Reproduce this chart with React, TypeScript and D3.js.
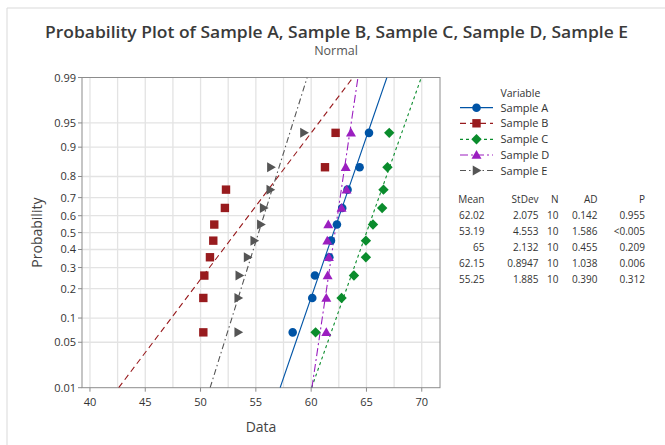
import React from "react";
import * as d3 from "d3";

const seriesNames = ["Sample A", "Sample B", "Sample C", "Sample D", "Sample E"];
const sampleA = [58.33, 60.1, 60.34, 61.64, 61.79, 62.33, 62.81, 63.29, 64.38, 65.23];
const sampleB = [50.25, 50.25, 50.34, 50.85, 51.15, 51.24, 52.2, 52.3, 61.25, 62.21];
const sampleC = [60.4, 62.75, 63.87, 64.95, 64.95, 65.59, 66.42, 66.54, 66.9, 67.06];
const sampleD = [61.37, 61.37, 61.49, 61.6, 61.46, 61.55, 62.75, 63.2, 63.12, 63.6];
const sampleE = [53.4, 53.4, 53.5, 54.25, 54.85, 55.45, 55.7, 56.3, 56.36, 59.35];
const means = [62.02, 53.19, 65, 62.15, 55.25];
const stdevs = [2.075, 4.553, 2.132, 0.8947, 1.885];
const meanLabels = ["62.02", "53.19", "65", "62.15", "55.25"];
const stdevLabels = ["2.075", "4.553", "2.132", "0.8947", "1.885"];
const nLabels = ["10", "10", "10", "10", "10"];
const adLabels = ["0.142", "1.586", "0.455", "1.038", "0.390"];
const pLabels = ["0.955", "<0.005", "0.209", "0.006", "0.312"];
const xTicks = [40, 45, 50, 55, 60, 65, 70];
const xGrid = [40, 42.5, 45, 47.5, 50, 52.5, 55, 57.5, 60, 62.5, 65, 67.5, 70];
const yTicks = [0.01, 0.05, 0.1, 0.2, 0.3, 0.4, 0.5, 0.6, 0.7, 0.8, 0.9, 0.95, 0.99];
const yTickLabels = ["0.01", "0.05", "0.1", "0.2", "0.3", "0.4", "0.5", "0.6", "0.7", "0.8", "0.9", "0.95", "0.99"];

const colors = ["#0054A6", "#981B1E", "#0A8C2C", "#9B1FC0", "#555555"];
const dashes = ["", "6,4", "3,3", "8,3,2,3", "6,3,1.5,3"];
const shapes = ["circle", "square", "diamond", "triangle", "tri-right"];

const FONT = "'Open Sans', 'Noto Sans', sans-serif";

function markerPath(shape: string, cx: number, cy: number): string {
  if (shape === "circle") {
    const r = 4.3;
    return `M${cx - r},${cy}a${r},${r} 0 1,0 ${2 * r},0a${r},${r} 0 1,0 ${-2 * r},0Z`;
  }
  if (shape === "square") {
    const h = 4.2;
    return `M${cx - h},${cy - h}h${2 * h}v${2 * h}h${-2 * h}Z`;
  }
  if (shape === "diamond") {
    const h = 5.2;
    return `M${cx},${cy - h}L${cx + h},${cy}L${cx},${cy + h}L${cx - h},${cy}Z`;
  }
  if (shape === "triangle") {
    const h = 5;
    return `M${cx},${cy - h}L${cx + h},${cy + h * 0.75}L${cx - h},${cy + h * 0.75}Z`;
  }
  const h = 5;
  return `M${cx + h},${cy}L${cx - h * 0.75},${cy - h}L${cx - h * 0.75},${cy + h}Z`;
}

// inverse normal CDF (Acklam)
function invN(p: number): number {
  const a = [-3.969683028665376e1, 2.209460984245205e2, -2.759285104469687e2, 1.38357751867269e2, -3.066479806614716e1, 2.506628277459239];
  const b = [-5.447609879822406e1, 1.615858368580409e2, -1.556989798598866e2, 6.680131188771972e1, -1.328068155288572e1];
  const c = [-7.784894002430293e-3, -3.223964580411365e-1, -2.400758277161838, -2.549732539343734, 4.374664141464968, 2.938163982698783];
  const dd = [7.784695709041462e-3, 3.224671290700398e-1, 2.445134137142996, 3.754408661907416];
  const pl = 0.02425;
  let q: number, r: number;
  if (p < pl) {
    q = Math.sqrt(-2 * Math.log(p));
    return (((((c[0] * q + c[1]) * q + c[2]) * q + c[3]) * q + c[4]) * q + c[5]) / ((((dd[0] * q + dd[1]) * q + dd[2]) * q + dd[3]) * q + 1);
  }
  if (p > 1 - pl) {
    q = Math.sqrt(-2 * Math.log(1 - p));
    return -(((((c[0] * q + c[1]) * q + c[2]) * q + c[3]) * q + c[4]) * q + c[5]) / ((((dd[0] * q + dd[1]) * q + dd[2]) * q + dd[3]) * q + 1);
  }
  q = p - 0.5;
  r = q * q;
  return ((((((a[0] * r + a[1]) * r + a[2]) * r + a[3]) * r + a[4]) * r + a[5]) * q) / (((((b[0] * r + b[1]) * r + b[2]) * r + b[3]) * r + b[4]) * r + 1);
}

export default function App() {
  const W = 665;
  const H = 445;
  const left = 82;
  const right = 440;
  const top = 77.5;
  const bottom = 387.7;
  const zTop = invN(0.99);
  const zBot = invN(0.01);
  const x = d3.scaleLinear().domain([39.28, 71.65]).range([left, right]);
  const y = d3.scaleLinear().domain([zBot, zTop]).range([bottom, top]);
  const yp = (p: number) => y(invN(p));

  const all = [sampleA, sampleB, sampleC, sampleD, sampleE];
  const n = 10;
  const ranks = d3.range(1, n + 1).map((i) => (i - 0.3) / (n + 0.4));
  const line = d3.line<[number, number]>().x((d) => x(d[0])).y((d) => y(d[1]));

  const legX = 460;
  const legRows = [107.7, 123.3, 139.3, 155, 170.5];
  const tblRows = [215, 231, 247, 262.7, 278.7];
  const cols = [484.5, 538.5, 558.5, 597.5, 645];

  return (
    <svg width={W} height={H} style={{ position: "absolute", left: 0, top: 0, background: "#fff" }}>
      <rect x={0} y={0} width={W} height={H} fill="#fff" />
      <line x1={7} y1={8} x2={W} y2={8} stroke="#d9d9d9" />
      <line x1={7} y1={8} x2={7} y2={H} stroke="#d9d9d9" />
      <text x={336.5} y={38} textAnchor="middle" fontFamily={FONT} fontWeight={600} fontSize={17} fill="#3a3a3a" textLength={583} lengthAdjust="spacingAndGlyphs">
        Probability Plot of Sample A, Sample B, Sample C, Sample D, Sample E
      </text>
      <text x={336} y={55} textAnchor="middle" fontFamily={FONT} fontSize={12.5} fill="#555">
        Normal
      </text>
      {xGrid.map((v) => (
        <line key={"gx" + v} x1={x(v)} x2={x(v)} y1={top} y2={bottom} stroke="#e3e3e3" strokeWidth={1.3} />
      ))}
      {yTicks.slice(1, -1).map((p) => (
        <line key={"gy" + p} x1={left} x2={right} y1={yp(p)} y2={yp(p)} stroke="#e3e3e3" strokeWidth={1.3} />
      ))}
      <rect x={left} y={top} width={right - left} height={bottom - top} fill="none" stroke="#8c8c8c" strokeWidth={1} />
      {yTicks.map((p, i) => (
        <g key={"yt" + p}>
          <line x1={left - 4} x2={left} y1={yp(p)} y2={yp(p)} stroke="#8c8c8c" />
          <text x={left - 6} y={yp(p) + 4} textAnchor="end" fontFamily={FONT} fontSize={11} fill="#333">
            {yTickLabels[i]}
          </text>
        </g>
      ))}
      {xTicks.map((v) => (
        <g key={"xt" + v}>
          <line x1={x(v)} x2={x(v)} y1={bottom} y2={bottom + 4} stroke="#8c8c8c" />
          <text x={x(v)} y={bottom + 18} textAnchor="middle" fontFamily={FONT} fontSize={11} fill="#333">
            {v}
          </text>
        </g>
      ))}
      <text x={(left + right) / 2} y={432} textAnchor="middle" fontFamily={FONT} fontSize={14} fill="#444">
        Data
      </text>
      <text transform={`translate(42,${(top + bottom) / 2}) rotate(-90)`} textAnchor="middle" fontFamily={FONT} fontSize={14} fill="#444">
        Probability
      </text>
      <defs>
        <clipPath id="plotclip">
          <rect x={left} y={top} width={right - left} height={bottom - top} />
        </clipPath>
      </defs>
      <g clipPath="url(#plotclip)">
        {means.map((m, i) => (
          <path
            key={"fit" + i}
            d={line([[m + stdevs[i] * zBot, zBot], [m + stdevs[i] * zTop, zTop]]) || ""}
            fill="none"
            stroke={colors[i]}
            strokeWidth={1.1}
            strokeDasharray={dashes[i]}
          />
        ))}
      </g>
      {all.map((arr, si) =>
        arr.map((v, i) => (
          <path key={`pt${si}-${i}`} d={markerPath(shapes[si], x(v), yp(ranks[i]))} fill={colors[si]} />
        ))
      )}
      <text x={500.5} y={96.5} fontFamily={FONT} fontSize={10.5} fill="#333">Variable</text>
      {seriesNames.map((s, i) => (
        <g key={"leg" + i}>
          <line x1={legX} x2={493} y1={legRows[i]} y2={legRows[i]} stroke={colors[i]} strokeWidth={1.2} strokeDasharray={dashes[i]} />
          <path d={markerPath(shapes[i], 476.5, legRows[i])} fill={colors[i]} />
          <text x={500.5} y={legRows[i] + 4} fontFamily={FONT} fontSize={11} fill="#333">{s}</text>
        </g>
      ))}
      {["Mean", "StDev", "N", "AD", "P"].map((h, j) => (
        <text key={"h" + h} x={cols[j]} y={203} textAnchor="end" fontFamily={FONT} fontSize={10} fill="#333">{h}</text>
      ))}
      {tblRows.map((ry, i) => (
        <g key={"row" + i}>
          {[meanLabels[i], stdevLabels[i], nLabels[i], adLabels[i], pLabels[i]].map((t, j) => (
            <text key={j} x={cols[j]} y={ry + 4} textAnchor="end" fontFamily={FONT} fontSize={10} fill="#333">{t}</text>
          ))}
        </g>
      ))}
    </svg>
  );
}
